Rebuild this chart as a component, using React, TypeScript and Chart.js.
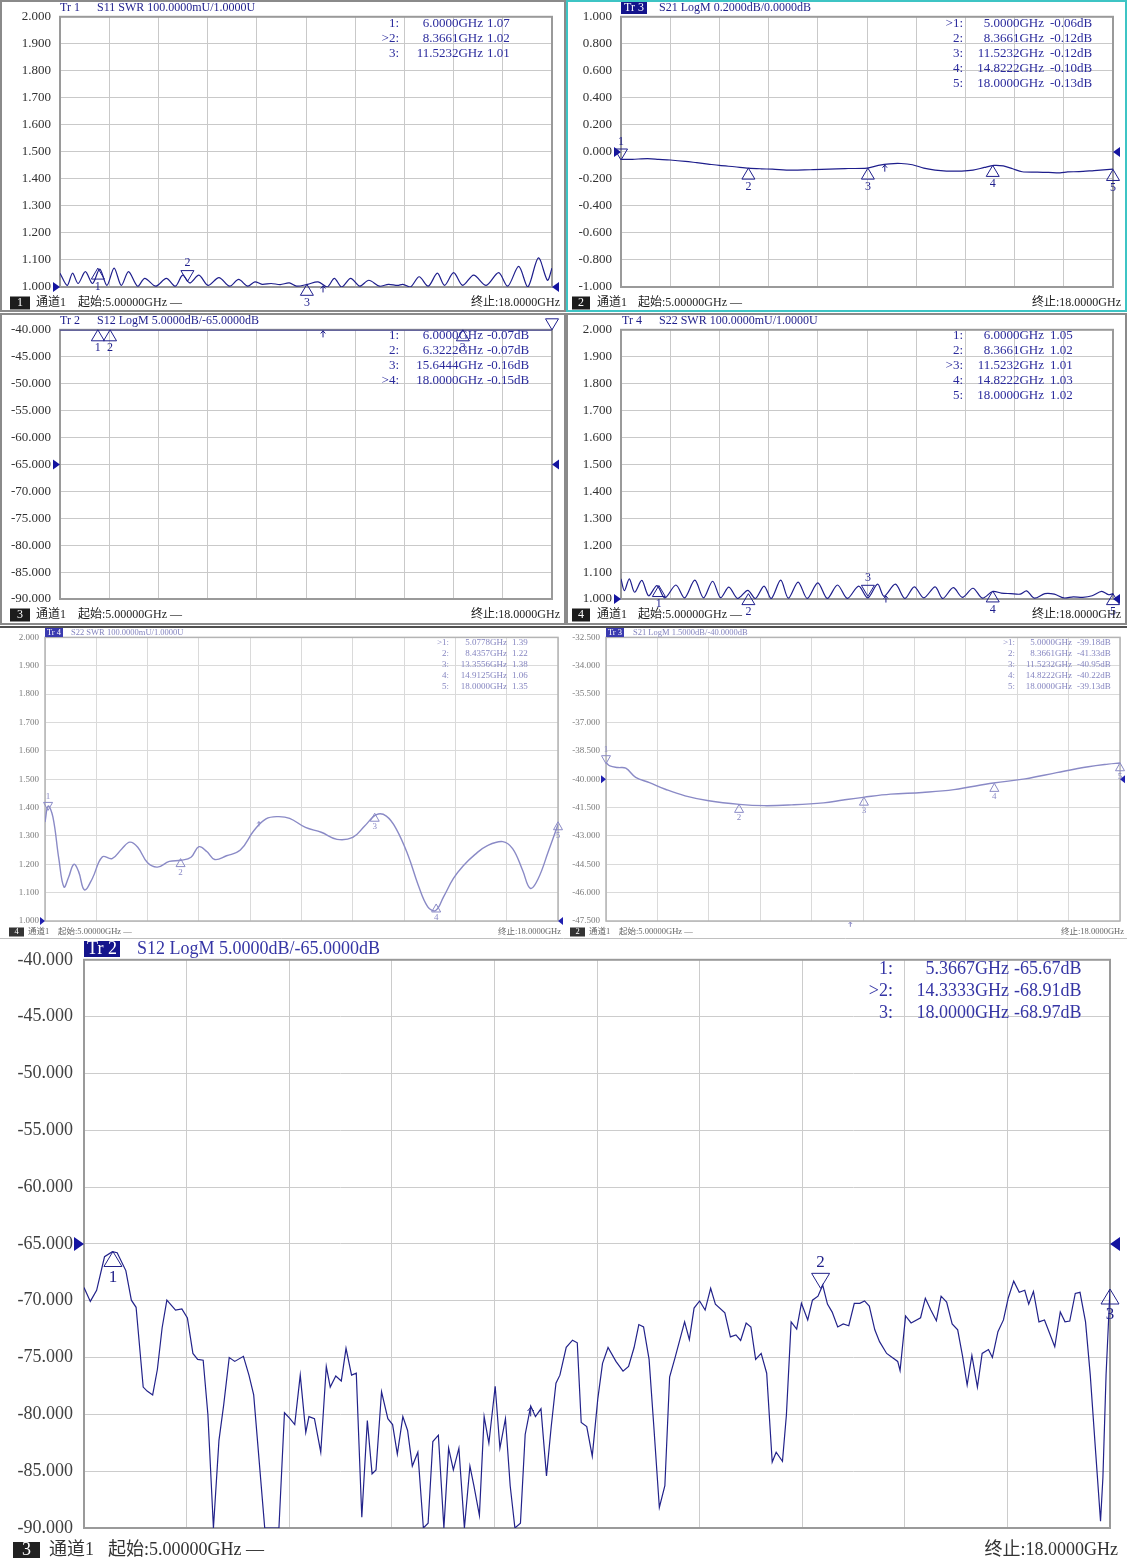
import React, { useEffect, useRef } from "react";
import { Chart, registerables } from "chart.js";

Chart.register(...registerables);

const FONT = '"Liberation Serif", "Noto Sans CJK SC", serif';

// ---------------- sweep / axes ----------------
const sweepStartGHz = 5;
const sweepStopGHz = 18;
const freqGridGHz = [5, 6.3, 7.6, 8.9, 10.2, 11.5, 12.8, 14.1, 15.4, 16.7, 18];
const swrTicks = [1.0, 1.1, 1.2, 1.3, 1.4, 1.5, 1.6, 1.7, 1.8, 1.9, 2.0];
const s21FineTicks = [-1.0, -0.8, -0.6, -0.4, -0.2, 0, 0.2, 0.4, 0.6, 0.8, 1.0];
const s12Ticks = [-90, -85, -80, -75, -70, -65, -60, -55, -50, -45, -40];
const s21CoarseTicks = [-47.5, -46, -44.5, -43, -41.5, -40, -38.5, -37, -35.5, -34, -32.5];

// ---------------- Tr1 S11 SWR ----------------
const s11Freq = [5.00, 5.19, 5.33, 5.48, 5.67, 5.86, 6.05, 6.24, 6.43, 6.62, 6.81, 7.05, 7.24, 7.53, 7.81, 8.05, 8.24, 8.43, 8.67, 8.91, 9.20, 9.48, 9.72, 9.96, 10.15, 10.34, 10.58, 10.82, 11.06, 11.25, 11.54, 11.82, 12.06, 12.25, 12.44, 12.68, 12.92, 13.16, 13.44, 13.68, 13.92, 14.06, 14.26, 14.49, 14.73, 14.97, 15.16, 15.40, 15.64, 15.93, 16.26, 16.59, 16.83, 17.12, 17.36, 17.64, 17.88, 18.00];
const s11Swr = [1.051, 1.006, 1.051, 1.013, 1.057, 1.013, 1.066, 1.006, 1.070, 1.006, 1.057, 1.003, 1.032, 1.003, 1.032, 1.003, 1.044, 1.015, 1.044, 1.006, 1.035, 1.003, 1.028, 1.003, 1.019, 1.010, 1.013, 1.009, 1.015, 1.003, 1.010, 1.019, 1.000, 1.032, 1.000, 1.032, 1.003, 1.025, 1.003, 1.010, 1.006, 1.010, 1.000, 1.038, 1.003, 1.051, 1.006, 1.053, 1.006, 1.044, 1.006, 1.053, 1.003, 1.076, 1.000, 1.108, 1.025, 1.070];
const s11MarkerFreq = [6.0, 8.3661, 11.5232];
const s11MarkerValue = [1.07, 1.02, 1.01];
const s11Stim = [11.95, 1.008];

// ---------------- Tr3 S21 LogM (0.2 dB/div) ----------------
const s21Freq = [5.0, 5.3, 5.7, 6.0, 6.3, 6.7, 7.0, 7.3, 7.6, 8.0, 8.37, 8.7, 9.0, 9.5, 10.0, 10.3, 10.7, 11.0, 11.5, 11.8, 12.1, 12.4, 12.7, 13.0, 13.3, 13.6, 14.0, 14.3, 14.6, 14.85, 15.1, 15.35, 15.6, 16.0, 16.3, 16.6, 16.8, 17.1, 17.5, 18.0];
const s21Db = [-0.056, -0.055, -0.05, -0.055, -0.06, -0.07, -0.08, -0.09, -0.1, -0.11, -0.12, -0.125, -0.128, -0.135, -0.132, -0.13, -0.125, -0.123, -0.12, -0.1, -0.088, -0.086, -0.095, -0.12, -0.135, -0.142, -0.142, -0.135, -0.115, -0.1, -0.104, -0.125, -0.147, -0.15, -0.152, -0.155, -0.148, -0.146, -0.138, -0.128];
const s21MarkerFreq = [5.0, 8.3661, 11.5232, 14.8222, 18.0];
const s21MarkerValue = [-0.06, -0.12, -0.12, -0.10, -0.13];
const s21Stim = [11.97, -0.09];

// ---------------- Tr2 S12 LogM (top panel, trace above top) ----------------
const s12TopFreq = [5.0, 6.0, 6.3222, 8.0, 10.0, 12.0, 14.0, 15.6444, 17.0, 18.0];
const s12TopDb = [-0.06, -0.07, -0.07, -0.1, -0.12, -0.12, -0.11, -0.16, -0.14, -0.15];
const s12TopMarkerFreq = [6.0, 6.3222, 15.6444, 18.0];
const s12TopMarkerValue = [-0.07, -0.07, -0.16, -0.15];
const s12TopStim = [11.95, -40];

// ---------------- Tr4 S22 SWR ----------------
const s22Freq = [5.00, 5.09, 5.22, 5.36, 5.55, 5.73, 5.95, 6.16, 6.45, 6.68, 6.95, 7.18, 7.42, 7.63, 7.85, 8.08, 8.35, 8.55, 8.78, 8.97, 9.22, 9.42, 9.68, 9.92, 10.20, 10.45, 10.72, 10.98, 11.28, 11.52, 11.78, 11.95, 12.25, 12.50, 12.75, 13.00, 13.30, 13.50, 13.78, 14.02, 14.30, 14.55, 14.82, 15.05, 15.30, 15.55, 15.72, 15.92, 16.20, 16.45, 16.70, 16.95, 17.20, 17.45, 17.70, 17.88, 18.00];
const s22Swr = [1.075, 1.031, 1.075, 1.025, 1.069, 1.012, 1.050, 1.004, 1.052, 1.004, 1.070, 1.004, 1.066, 1.005, 1.044, 1.002, 1.032, 1.002, 1.048, 1.002, 1.070, 1.003, 1.063, 1.002, 1.060, 1.002, 1.052, 1.002, 1.048, 1.004, 1.055, 1.010, 1.055, 1.002, 1.045, 1.004, 1.045, 1.002, 1.042, 1.006, 1.040, 1.003, 1.028, 1.022, 1.020, 1.018, 1.030, 1.003, 1.020, 1.018, 1.004, 1.008, 1.006, 1.012, 1.028, 1.016, 1.020];
const s22MarkerFreq = [6.0, 8.3661, 11.5232, 14.8222, 18.0];
const s22MarkerValue = [1.05, 1.02, 1.01, 1.03, 1.02];
const s22Stim = [12.0, 1.015];

// ---------------- Tr4 S22 SWR (second capture) ----------------
const s22bFreq = [5.00, 5.08, 5.20, 5.35, 5.48, 5.60, 5.73, 5.85, 6.00, 6.20, 6.45, 6.70, 6.95, 7.15, 7.35, 7.60, 7.85, 8.15, 8.45, 8.70, 8.90, 9.10, 9.30, 9.60, 9.95, 10.30, 10.60, 10.90, 11.20, 11.60, 12.00, 12.40, 12.80, 13.10, 13.40, 13.65, 13.90, 14.20, 14.45, 14.70, 14.90, 15.10, 15.35, 15.60, 15.90, 16.20, 16.60, 16.85, 17.10, 17.30, 17.50, 17.75, 18.00];
const s22bSwr = [1.349, 1.405, 1.367, 1.220, 1.120, 1.155, 1.200, 1.175, 1.110, 1.150, 1.226, 1.220, 1.255, 1.278, 1.260, 1.205, 1.190, 1.210, 1.214, 1.225, 1.262, 1.245, 1.217, 1.230, 1.250, 1.320, 1.360, 1.368, 1.362, 1.330, 1.313, 1.288, 1.295, 1.335, 1.375, 1.370, 1.325, 1.232, 1.130, 1.050, 1.037, 1.085, 1.150, 1.195, 1.235, 1.265, 1.280, 1.255, 1.180, 1.115, 1.150, 1.243, 1.340];
const s22bMarkerFreq = [5.0778, 8.4357, 13.3556, 14.9125, 18.0];
const s22bMarkerValue = [1.39, 1.22, 1.38, 1.06, 1.35];
const s22bStim = [10.42, 1.354];

// ---------------- Tr3 S21 LogM (1.5 dB/div) ----------------
const s21bFreq = [5.0, 5.1, 5.3, 5.5, 5.75, 6.1, 6.5, 7.0, 7.6, 8.37, 9.0, 9.7, 10.5, 11.0, 11.5, 12.2, 13.0, 13.8, 14.8, 15.6, 16.4, 17.2, 17.7, 18.0];
const s21bDb = [-39.12, -39.3, -39.38, -39.42, -39.9, -40.18, -40.53, -40.88, -41.14, -41.33, -41.4, -41.36, -41.25, -41.1, -40.96, -40.79, -40.7, -40.55, -40.2, -39.98, -39.65, -39.34, -39.2, -39.14];
const s21bMarkerFreq = [5.0, 8.3661, 11.5232, 14.8222, 18.0];
const s21bMarkerValue = [-39.18, -41.33, -40.95, -40.22, -39.13];
const s21bStim = [11.18, -47.5];

// ---------------- Tr2 S12 LogM (large) ----------------
const s12Freq = [
  5.00, 5.08, 5.16, 5.26, 5.36, 5.42, 5.53, 5.60, 5.66, 5.75,
  5.80, 5.87, 5.93, 5.99, 6.05, 6.16, 6.24, 6.31, 6.38, 6.44,
  6.51, 6.57, 6.64, 6.71, 6.77, 6.84, 6.91, 7.02, 7.09, 7.15,
  7.29, 7.47, 7.54, 7.61, 7.67, 7.74, 7.81, 7.85, 7.92, 8.00,
  8.07, 8.12, 8.19, 8.26, 8.32, 8.39, 8.45, 8.52, 8.59, 8.65,
  8.70, 8.77, 8.85, 8.91, 8.97, 9.04, 9.10, 9.16, 9.23, 9.30,
  9.36, 9.42, 9.49, 9.56, 9.62, 9.68, 9.75, 9.82, 9.89, 9.94,
  10.01, 10.07, 10.13, 10.21, 10.27, 10.34, 10.40, 10.46, 10.53, 10.59,
  10.66, 10.72, 10.79, 10.86, 10.92, 10.98, 11.03, 11.11, 11.19, 11.25,
  11.30, 11.37, 11.44, 11.51, 11.57, 11.64, 11.74, 11.83, 11.90, 11.97,
  12.03, 12.09, 12.16, 12.22, 12.29, 12.36, 12.42, 12.49, 12.61, 12.67,
  12.73, 12.80, 12.87, 12.94, 13.00, 13.12, 13.19, 13.26, 13.32, 13.39,
  13.45, 13.51, 13.58, 13.65, 13.72, 13.77, 13.85, 13.90, 13.96, 14.03,
  14.09, 14.17, 14.23, 14.30, 14.36, 14.42, 14.48, 14.55, 14.62, 14.69,
  14.76, 14.83, 14.89, 14.95, 15.02, 15.08, 15.17, 15.31, 15.34, 15.41,
  15.48, 15.60, 15.66, 15.73, 15.80, 15.86, 15.93, 16.00, 16.07, 16.13,
  16.19, 16.25, 16.32, 16.38, 16.46, 16.51, 16.58, 16.65, 16.71, 16.78,
  16.85, 16.92, 16.97, 17.03, 17.10, 17.17, 17.30, 17.37, 17.43, 17.49,
  17.56, 17.62, 17.69, 17.75, 17.82, 17.88, 17.91, 17.95, 18.00,
];
const s12Db = [
  -68.84, -70.06, -69.08, -66.13, -65.68, -65.78, -67.35, -69.95, -70.58, -77.6,
  -77.95, -78.29, -76.03, -72.38, -69.95, -70.82, -70.72, -71.52, -74.64, -75.16,
  -75.23, -80.03, -90, -82.29, -79.16, -75.0, -75.34, -74.89, -76.55, -78.29,
  -90, -90, -79.86, -80.38, -80.9, -76.55, -81.59, -80.2, -80.38, -83.33,
  -75.79, -77.6, -76.62, -77.07, -74.19, -76.55, -76.38, -89.06, -80.55, -85.24,
  -84.89, -78.01, -80.38, -80.9, -83.5, -80.2, -81.42, -84.55, -83.33, -90,
  -89.58, -82.39, -81.83, -90, -82.98, -84.89, -82.98, -90, -84.55, -86.28,
  -88.89, -80.2, -82.53, -77.53, -82.98, -80.38, -86.28, -90, -89.58, -81.77,
  -79.27, -80.2, -79.51, -85.41, -81.07, -77.25, -76.55, -74.1, -73.47, -73.7,
  -80.72, -81.07, -83.68, -78.64, -75.51, -74.12, -75.34, -76.2, -75.79, -74.12,
  -72.1, -72.31, -75.16, -81.07, -88.19, -86.28, -76.72, -74.99, -71.86, -73.42,
  -70.65, -70.02, -70.82, -68.91, -70.3, -71.06, -73.18, -73.01, -73.5, -71.96,
  -72.31, -75.16, -74.64, -76.38, -84.2, -83.33, -84.13, -80.03, -71.86, -72.49,
  -70.23, -71.69, -69.95, -69.6, -68.63, -70.3, -71.0, -72.31, -72.04, -72.2,
  -70.23, -70.23, -70.02, -70.47, -72.56, -73.6, -74.64, -75.34, -76.14, -71.34,
  -71.96, -71.5, -69.78, -70.82, -71.76, -69.6, -70.12, -72.04, -72.56, -74.81,
  -77.42, -74.81, -77.6, -74.64, -74.3, -74.99, -72.73, -71.69, -69.78, -68.28,
  -69.26, -69.08, -70.3, -69.19, -71.86, -71.69, -74.05, -70.99, -71.86, -71.79,
  -69.36, -69.26, -71.86, -76.55, -83.5, -89.4, -85.58, -76.55, -69.0,
];
const s12MarkerFreq = [5.3667, 14.3333, 18.0];
const s12MarkerValue = [-65.67, -68.91, -68.97];
const s12Stim = [10.66, -79.3];

// ---------------- styles ----------------
const topStyle = {
  font: 13, hdrFont: 12, tickPad: 9, line: "#1e1e8c", lineWidth: 1.2, tension: 0.3,
  tick: "#303030", grid: "#c9c9c9", frame: "#9a9a9a", frameWidth: 2,
  readout: "#2a2a9c", header: "#1e1e8c", hiBox: "#14148c", footer: "#222222", footBox: "#1c1c1c",
  tri: [13, 11], markerFont: 12, refArrow: [7, 10], refColor: "#1414a0",
  panelBorder: "#8a8a8a" as string | null, topLine: null as string | null, topLineWidth: 2,
};
const fadedStyle = {
  font: 9, hdrFont: 8.5, tickPad: 6, line: "#8a8ac6", lineWidth: 1.4, tension: 0.4,
  tick: "#7a7a7a", grid: "#dadada", frame: "#b4b4b4", frameWidth: 1.5,
  readout: "#8585c0", header: "#8585c0", hiBox: "#3a3ab0", footer: "#666666", footBox: "#333333",
  tri: [9, 8], markerFont: 9, refArrow: [5, 8], refColor: "#2020b0",
  panelBorder: null as string | null, topLine: "#505050" as string | null, topLineWidth: 2,
};
const bigStyle = {
  font: 18, hdrFont: 18, tickPad: 11, line: "#22228a", lineWidth: 1.2, tension: 0,
  tick: "#404040", grid: "#cccccc", frame: "#9a9a9a", frameWidth: 2,
  readout: "#3535a5", header: "#3535a5", hiBox: "#14148c", footer: "#333333", footBox: "#222222",
  tri: [18, 15], markerFont: 17, refArrow: [10, 14], refColor: "#1414a0",
  panelBorder: null as string | null, topLine: "#c0c0c0" as string | null, topLineWidth: 1,
};

const panels: any[] = [
  {
    key: "s11", box: [0, 0, 566, 312], plot: [60, 15, 552, 287],
    yTicks: swrTicks, freq: s11Freq, values: s11Swr,
    markerFreq: s11MarkerFreq, markerValue: s11MarkerValue, activeMarker: 1, unit: "",
    refValue: 1.0, trLabel: "Tr 1", trHighlight: false, headerText: "S11 SWR 100.0000mU/1.0000U", channelNo: "1",
    stim: s11Stim, style: { ...topStyle, tension: 0.3 },
    hdr: { trX: 60, boxW: 0, boxTop: 2, boxH: 12, textX: 97, y: 8 },
    ro: { labelRight: 399, freqRight: 483, valueLeft: 487, y0: 24, dy: 15 },
    ft: { boxX: 10, boxW: 20, boxH: 13, chanX: 36, startX: 78, stopRight: 560, y: 303 },
  },
  {
    key: "s21", box: [566, 0, 561, 312], plot: [55, 15, 547, 287],
    yTicks: s21FineTicks, freq: s21Freq, values: s21Db,
    markerFreq: s21MarkerFreq, markerValue: s21MarkerValue, activeMarker: 0, unit: "dB",
    refValue: 0, trLabel: "Tr 3", trHighlight: true, headerText: "S21 LogM 0.2000dB/0.0000dB", channelNo: "2",
    stim: s21Stim, style: { ...topStyle, tension: 0.3, panelBorder: "#3ec4c4" },
    hdr: { trX: 55, boxW: 26, boxTop: 2, boxH: 12, textX: 93, y: 8 },
    ro: { labelRight: 397, freqRight: 478, valueLeft: 484, y0: 24, dy: 15 },
    ft: { boxX: 6, boxW: 18, boxH: 13, chanX: 31, startX: 72, stopRight: 555, y: 303 },
  },
  {
    key: "s12top", box: [0, 313, 566, 312], plot: [60, 14, 552, 286],
    yTicks: s12Ticks, freq: s12TopFreq, values: s12TopDb,
    markerFreq: s12TopMarkerFreq, markerValue: s12TopMarkerValue, activeMarker: 3, unit: "dB",
    refValue: -65, trLabel: "Tr 2", trHighlight: false, headerText: "S12 LogM 5.0000dB/-65.0000dB", channelNo: "3",
    stim: s12TopStim, style: { ...topStyle, tension: 0, lineWidth: 1.6 },
    hdr: { trX: 60, boxW: 0, boxTop: 2, boxH: 12, textX: 97, y: 8 },
    ro: { labelRight: 399, freqRight: 483, valueLeft: 487, y0: 23, dy: 15 },
    ft: { boxX: 10, boxW: 20, boxH: 13, chanX: 36, startX: 78, stopRight: 560, y: 302 },
  },
  {
    key: "s22", box: [566, 313, 561, 312], plot: [55, 14, 547, 286],
    yTicks: swrTicks, freq: s22Freq, values: s22Swr,
    markerFreq: s22MarkerFreq, markerValue: s22MarkerValue, activeMarker: 2, unit: "",
    refValue: 1.0, trLabel: "Tr 4", trHighlight: false, headerText: "S22 SWR 100.0000mU/1.0000U", channelNo: "4",
    stim: s22Stim, style: { ...topStyle, tension: 0.3 },
    hdr: { trX: 56, boxW: 0, boxTop: 2, boxH: 12, textX: 93, y: 8 },
    ro: { labelRight: 397, freqRight: 478, valueLeft: 484, y0: 23, dy: 15 },
    ft: { boxX: 6, boxW: 18, boxH: 13, chanX: 31, startX: 72, stopRight: 555, y: 302 },
  },
  {
    key: "s22b", box: [0, 626, 566, 312], plot: [45, 10, 558, 295],
    yTicks: swrTicks, freq: s22bFreq, values: s22bSwr,
    markerFreq: s22bMarkerFreq, markerValue: s22bMarkerValue, activeMarker: 0, unit: "",
    refValue: 1.0, trLabel: "Tr 4", trHighlight: true, headerText: "S22 SWR 100.0000mU/1.0000U", channelNo: "4",
    stim: s22bStim, style: { ...fadedStyle },
    hdr: { trX: 45, boxW: 18, boxTop: 2, boxH: 9, textX: 71, y: 6.5 },
    ro: { labelRight: 449, freqRight: 507, valueLeft: 512, y0: 17, dy: 11 },
    ft: { boxX: 9, boxW: 15, boxH: 9, chanX: 28, startX: 58, stopRight: 561, y: 306 },
  },
  {
    key: "s21b", box: [566, 626, 561, 312], plot: [40, 10, 554, 295],
    yTicks: s21CoarseTicks, freq: s21bFreq, values: s21bDb,
    markerFreq: s21bMarkerFreq, markerValue: s21bMarkerValue, activeMarker: 0, unit: "dB",
    refValue: -40, trLabel: "Tr 3", trHighlight: true, headerText: "S21 LogM 1.5000dB/-40.0000dB", channelNo: "2",
    stim: s21bStim, style: { ...fadedStyle },
    hdr: { trX: 40, boxW: 18, boxTop: 2, boxH: 9, textX: 67, y: 6.5 },
    ro: { labelRight: 449, freqRight: 506, valueLeft: 511, y0: 17, dy: 11 },
    ft: { boxX: 4, boxW: 15, boxH: 9, chanX: 23, startX: 53, stopRight: 558, y: 306 },
  },
  {
    key: "s12", box: [0, 938, 1127, 622], plot: [84, 19, 1110, 590],
    yTicks: s12Ticks, freq: s12Freq, values: s12Db,
    markerFreq: s12MarkerFreq, markerValue: s12MarkerValue, activeMarker: 1, unit: "dB",
    refValue: -65, trLabel: "Tr 2", trHighlight: true, headerText: "S12 LogM 5.0000dB/-65.0000dB", channelNo: "3",
    stim: s12Stim, style: { ...bigStyle },
    hdr: { trX: 84, boxW: 36, boxTop: 3, boxH: 16, textX: 137, y: 11 },
    ro: { labelRight: 893, freqRight: 1009, valueLeft: 1014, y0: 31, dy: 22 },
    ft: { boxX: 13, boxW: 27, boxH: 16, chanX: 49, startX: 108, stopRight: 1118, y: 612 },
  },
];

function txt(ctx: any, s: string, x: number, y: number, size: number, color: string, align: string = "left") {
  ctx.font = `${size}px ${FONT}`;
  ctx.fillStyle = color;
  ctx.textAlign = align;
  ctx.textBaseline = "middle";
  ctx.fillText(s, x, y);
}

function overlayPlugin(spec: any) {
  const st = spec.style;
  const lo = spec.yTicks[0];
  const hi = spec.yTicks[spec.yTicks.length - 1];
  const clamp = (v: number) => Math.max(lo, Math.min(hi, v));
  return {
    id: "vnaOverlay",
    beforeDatasetsDraw(chart: any) {
      const ctx = chart.ctx;
      const a = chart.chartArea;
      ctx.save();
      ctx.strokeStyle = st.frame;
      ctx.lineWidth = st.frameWidth;
      ctx.strokeRect(a.left, a.top, a.right - a.left, a.bottom - a.top);
      ctx.restore();
    },
    afterDatasetsDraw(chart: any) {
      const ctx = chart.ctx;
      const a = chart.chartArea;
      const xs = chart.scales.x;
      const ys = chart.scales.y;
      const W = chart.width;
      const H = chart.height;
      ctx.save();

      // reference level arrows
      const ry = ys.getPixelForValue(spec.refValue);
      const [aw, ah] = st.refArrow;
      ctx.fillStyle = st.refColor;
      ctx.beginPath();
      ctx.moveTo(a.left, ry);
      ctx.lineTo(a.left - aw, ry - ah / 2);
      ctx.lineTo(a.left - aw, ry + ah / 2);
      ctx.closePath();
      ctx.fill();
      ctx.beginPath();
      ctx.moveTo(a.right, ry);
      ctx.lineTo(a.right + aw, ry - ah / 2);
      ctx.lineTo(a.right + aw, ry + ah / 2);
      ctx.closePath();
      ctx.fill();

      // small stimulus arrow
      if (spec.stim) {
        const px = xs.getPixelForValue(spec.stim[0]);
        const py = ys.getPixelForValue(clamp(spec.stim[1]));
        const L = st.tri[1] * 0.6;
        ctx.strokeStyle = st.line;
        ctx.lineWidth = 1;
        ctx.beginPath();
        ctx.moveTo(px, py + 1);
        ctx.lineTo(px, py + 1 + L);
        ctx.moveTo(px - L * 0.35, py + 1 + L * 0.4);
        ctx.lineTo(px, py + 1);
        ctx.lineTo(px + L * 0.35, py + 1 + L * 0.4);
        ctx.stroke();
      }

      // markers
      const [tw, th] = st.tri;
      ctx.strokeStyle = st.line;
      ctx.lineWidth = 1;
      spec.markerFreq.forEach((f: number, i: number) => {
        const px = xs.getPixelForValue(f);
        const py = ys.getPixelForValue(clamp(spec.markerValue[i]));
        const dir = i === spec.activeMarker ? -1 : 1;
        ctx.beginPath();
        ctx.moveTo(px, py);
        ctx.lineTo(px - tw / 2, py + dir * th);
        ctx.lineTo(px + tw / 2, py + dir * th);
        ctx.closePath();
        ctx.stroke();
        txt(ctx, String(i + 1), px, py + dir * (th + st.markerFont * 0.62), st.markerFont, st.line, "center");
      });

      // marker readout table
      const ro = spec.ro;
      spec.markerFreq.forEach((f: number, i: number) => {
        const y = ro.y0 + i * ro.dy;
        const lbl = (i === spec.activeMarker ? ">" : "") + (i + 1) + ":";
        txt(ctx, lbl, ro.labelRight, y, st.font, st.readout, "right");
        txt(ctx, f.toFixed(4) + "GHz", ro.freqRight, y, st.font, st.readout, "right");
        txt(ctx, spec.markerValue[i].toFixed(2) + spec.unit, ro.valueLeft, y, st.font, st.readout, "left");
      });

      // header
      const hd = spec.hdr;
      const hf = st.hdrFont;
      if (spec.trHighlight) {
        ctx.fillStyle = st.hiBox;
        ctx.fillRect(hd.trX, hd.boxTop, hd.boxW, hd.boxH);
        txt(ctx, spec.trLabel, hd.trX + hd.boxW / 2, hd.y, hf, "#ffffff", "center");
      } else {
        txt(ctx, spec.trLabel, hd.trX, hd.y, hf, st.header, "left");
      }
      txt(ctx, spec.headerText, hd.textX, hd.y, hf, st.header, "left");

      // footer
      const ft = spec.ft;
      ctx.fillStyle = st.footBox;
      ctx.fillRect(ft.boxX, ft.y - ft.boxH / 2, ft.boxW, ft.boxH);
      txt(ctx, spec.channelNo, ft.boxX + ft.boxW / 2, ft.y, hf, "#ffffff", "center");
      txt(ctx, "通道1", ft.chanX, ft.y, hf, st.footer, "left");
      txt(ctx, "起始:" + sweepStartGHz.toFixed(5) + "GHz —", ft.startX, ft.y, hf, st.footer, "left");
      txt(ctx, "终止:" + sweepStopGHz.toFixed(4) + "GHz", ft.stopRight, ft.y, hf, st.footer, "right");

      // panel borders
      if (st.panelBorder) {
        ctx.strokeStyle = st.panelBorder;
        ctx.lineWidth = 2;
        ctx.strokeRect(1, 1, W - 2, H - 2);
      }
      if (st.topLine) {
        ctx.strokeStyle = st.topLine;
        ctx.lineWidth = st.topLineWidth;
        ctx.beginPath();
        ctx.moveTo(0, st.topLineWidth / 2);
        ctx.lineTo(W, st.topLineWidth / 2);
        ctx.stroke();
      }
      ctx.restore();
    },
  };
}

function VnaPanel({ spec }: { spec: any }) {
  const ref = useRef<HTMLCanvasElement | null>(null);
  useEffect(() => {
    const canvas = ref.current;
    if (!canvas) return;
    const st = spec.style;
    const [L, T, R, B] = spec.plot;
    const [, , W, H] = spec.box;
    const lo = spec.yTicks[0];
    const hi = spec.yTicks[spec.yTicks.length - 1];
    const n = Math.min(spec.freq.length, spec.values.length);
    const pts = [];
    for (let i = 0; i < n; i++) {
      pts.push({ x: spec.freq[i], y: Math.max(lo, Math.min(hi, spec.values[i])) });
    }
    const chart = new Chart(canvas, {
      type: "line",
      data: {
        datasets: [
          {
            data: pts,
            borderColor: st.line,
            borderWidth: st.lineWidth,
            pointRadius: 0,
            tension: st.tension,
            fill: false,
          },
        ],
      },
      options: {
        animation: false,
        responsive: false,
        maintainAspectRatio: false,
        events: [],
        layout: { padding: { left: 2, top: T, right: W - R, bottom: H - B } },
        plugins: { legend: { display: false }, tooltip: { enabled: false }, title: { display: false } },
        scales: {
          x: {
            type: "linear",
            min: sweepStartGHz,
            max: sweepStopGHz,
            afterBuildTicks: (s: any) => {
              s.ticks = freqGridGHz.map((v) => ({ value: v }));
            },
            afterFit: (s: any) => {
              s.height = 0;
            },
            ticks: { display: false },
            grid: { color: st.grid, lineWidth: 1, drawTicks: false },
            border: { display: false },
          },
          y: {
            type: "linear",
            min: lo,
            max: hi,
            afterBuildTicks: (s: any) => {
              s.ticks = spec.yTicks.map((v: number) => ({ value: v }));
            },
            afterFit: (s: any) => {
              s.width = L - 2;
            },
            ticks: {
              padding: st.tickPad,
              color: st.tick,
              font: { family: FONT, size: st.font },
              autoSkip: false,
              callback: (v: any) => Number(v).toFixed(3),
            },
            grid: { color: st.grid, lineWidth: 1, drawTicks: false },
            border: { display: false },
          },
        },
      } as any,
      plugins: [overlayPlugin(spec)],
    });
    return () => chart.destroy();
  }, [spec]);
  const [left, top, w, h] = spec.box;
  return (
    <canvas
      ref={ref}
      width={w}
      height={h}
      style={{ position: "absolute", left, top, width: w, height: h, display: "block" }}
    />
  );
}

export default function App() {
  useEffect(() => {
    document.body.style.margin = "0";
    document.body.style.background = "#ffffff";
  }, []);
  return (
    <div style={{ position: "absolute", left: 0, top: 0, width: 1127, height: 1560, background: "#ffffff", overflow: "hidden" }}>
      {panels.map((p) => (
        <VnaPanel key={p.key} spec={p} />
      ))}
    </div>
  );
}
